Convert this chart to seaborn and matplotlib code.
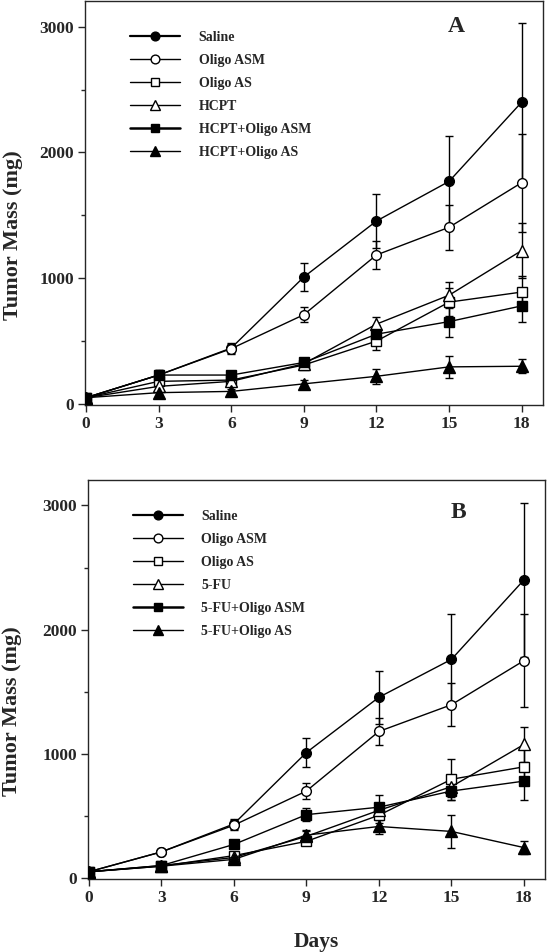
import numpy as np
import pandas as pd
import seaborn as sns
import matplotlib.pyplot as plt
from matplotlib.ticker import MultipleLocator

# days of measurement
days = [0, 3, 6, 9, 12, 15, 18]

# panel A: HCPT series (tumor mass in mg) and error bars
saline_a = [50, 230, 445, 1010, 1455, 1770, 2400]
saline_a_err = [10, 40, 40, 110, 215, 360, 630]
asm_a = [50, 230, 440, 710, 1185, 1405, 1760]
asm_a_err = [10, 30, 40, 60, 110, 180, 390]
as_a = [50, 180, 190, 310, 500, 810, 890]
as_a_err = [10, 30, 30, 30, 70, 110, 130]
hcpt = [50, 140, 180, 320, 635, 865, 1220]
hcpt_err = [10, 20, 30, 30, 60, 105, 220]
hcpt_asm = [50, 230, 230, 330, 555, 655, 780]
hcpt_asm_err = [10, 40, 30, 30, 70, 120, 130]
hcpt_as = [50, 90, 100, 160, 220, 295, 300]
hcpt_as_err = [10, 20, 20, 30, 60, 85, 55]

# panel B: 5-FU series
saline_b = [50, 210, 435, 1010, 1455, 1760, 2400]
saline_b_err = [10, 20, 40, 120, 215, 365, 620]
asm_b = [50, 210, 425, 700, 1180, 1395, 1750]
asm_b_err = [10, 20, 40, 65, 110, 175, 375]
as_b = [50, 95, 180, 295, 505, 795, 895]
as_b_err = [10, 15, 25, 30, 60, 165, 140]
fu = [50, 100, 165, 335, 545, 735, 1075]
fu_err = [10, 15, 20, 40, 60, 80, 140]
fu_asm = [50, 100, 270, 510, 570, 700, 780]
fu_asm_err = [10, 15, 25, 50, 100, 70, 150]
fu_as = [50, 95, 150, 345, 415, 375, 245]
fu_as_err = [10, 15, 20, 40, 60, 130, 50]

labels_a = ['Saline', 'Oligo ASM', 'Oligo AS', 'HCPT', 'HCPT+Oligo ASM', 'HCPT+Oligo AS']
labels_b = ['Saline', 'Oligo ASM', 'Oligo AS', '5-FU', '5-FU+Oligo ASM', '5-FU+Oligo AS']

# marker, face colour, legend line width for each of the six groups
styles = [('o', 'black', 1.6), ('o', 'white', 1.0), ('s', 'white', 1.0),
          ('^', 'white', 1.0), ('s', 'black', 1.8), ('^', 'black', 1.0)]

sns.set_style('ticks')
plt.rcParams['font.family'] = ['Liberation Serif', 'DejaVu Serif']
plt.rcParams['font.weight'] = 'bold'
plt.rcParams['axes.labelweight'] = 'bold'

fig = plt.figure(figsize=(5.49, 9.52), dpi=100)
ax_a = fig.add_axes([0.155, 0.5746, 0.834, 0.4244])
ax_b = fig.add_axes([0.160, 0.0767, 0.833, 0.4191])


def draw_panel(ax, labels, values, errors, letter, letter_y, ylab_x):
    for lab, vals, errs, (mk, fc, lw) in zip(labels, values, errors, styles):
        df = pd.DataFrame({'day': days, 'mass': vals})
        ax.errorbar(days, vals, yerr=errs, fmt='none', ecolor='black',
                    elinewidth=1.0, capsize=3, capthick=1.0, zorder=2)
        ms = 8 if mk == '^' else 7
        sns.lineplot(data=df, x='day', y='mass', ax=ax, color='black',
                     marker=mk, markerfacecolor=fc, markeredgecolor='black',
                     markeredgewidth=1.0, markersize=ms, linewidth=1.0,
                     label=lab, zorder=3)
    leg = ax.legend(loc='upper left', bbox_to_anchor=(0.098, 0.925), frameon=False,
                    handlelength=3.6, labelspacing=0.72, handletextpad=1.35,
                    borderpad=0, borderaxespad=0, markerscale=0.9,
                    prop={'family': 'Liberation Serif', 'weight': 'bold', 'size': 10})
    for line, (mk, fc, lw) in zip(leg.get_lines(), styles):
        line.set_linewidth(lw)
    ax.text(15.3, letter_y, letter, fontsize=17, fontweight='bold', ha='center', va='center')
    ax.set_xlim(-0.04, 18.88)
    ax.set_ylim(-8, 3205)
    ax.set_xticks(days)
    ax.yaxis.set_major_locator(MultipleLocator(1000))
    ax.yaxis.set_minor_locator(MultipleLocator(500))
    ax.tick_params(axis='both', which='major', direction='out', length=5, width=1,
                   labelsize=12.5, pad=3)
    ax.tick_params(axis='y', which='minor', direction='out', length=3, width=1)
    for lbl in ax.get_xticklabels() + ax.get_yticklabels():
        lbl.set_fontweight('bold')
    for sp in ax.spines.values():
        sp.set_visible(True)
        sp.set_linewidth(1.0)
    ax.set_ylabel('Tumor Mass (mg)', fontsize=16, fontweight='bold')
    ax.yaxis.set_label_coords(ylab_x, 0.42)
    ax.set_xlabel('')


draw_panel(ax_a, labels_a,
           [saline_a, asm_a, as_a, hcpt, hcpt_asm, hcpt_as],
           [saline_a_err, asm_a_err, as_a_err, hcpt_err, hcpt_asm_err, hcpt_as_err],
           'A', 3000, -0.136)
draw_panel(ax_b, labels_b,
           [saline_b, asm_b, as_b, fu, fu_asm, fu_as],
           [saline_b_err, asm_b_err, as_b_err, fu_err, fu_asm_err, fu_as_err],
           'B', 2940, -0.143)
ax_b.set_xlabel('Days', fontsize=15.5, fontweight='bold', labelpad=19)

fig.savefig('out.png', dpi=100)
